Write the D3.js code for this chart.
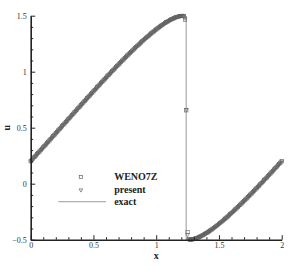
<!DOCTYPE html>
<html>
<head>
<meta charset="utf-8">
<script src="https://cdn.jsdelivr.net/npm/d3@7/dist/d3.min.js"></script>
<style>
  html, body { margin: 0; padding: 0; background: #fff; }
  svg { display: block; font-family: "Liberation Serif", "Times New Roman", serif; }
</style>
</head>
<body>
<div id="chart"></div>
<script>
// Burgers: u0 = 0.5 + sin(pi x), solucion despues de formarse el choque.
// Marcadores: WENO7Z (cuadrados) y present (triangulos); linea: exacta.

const xGrid = [
  0.00, 0.01, 0.02, 0.03, 0.04, 0.05, 0.06, 0.07, 0.08, 0.09,
  0.10, 0.11, 0.12, 0.13, 0.14, 0.15, 0.16, 0.17, 0.18, 0.19,
  0.20, 0.21, 0.22, 0.23, 0.24, 0.25, 0.26, 0.27, 0.28, 0.29,
  0.30, 0.31, 0.32, 0.33, 0.34, 0.35, 0.36, 0.37, 0.38, 0.39,
  0.40, 0.41, 0.42, 0.43, 0.44, 0.45, 0.46, 0.47, 0.48, 0.49,
  0.50, 0.51, 0.52, 0.53, 0.54, 0.55, 0.56, 0.57, 0.58, 0.59,
  0.60, 0.61, 0.62, 0.63, 0.64, 0.65, 0.66, 0.67, 0.68, 0.69,
  0.70, 0.71, 0.72, 0.73, 0.74, 0.75, 0.76, 0.77, 0.78, 0.79,
  0.80, 0.81, 0.82, 0.83, 0.84, 0.85, 0.86, 0.87, 0.88, 0.89,
  0.90, 0.91, 0.92, 0.93, 0.94, 0.95, 0.96, 0.97, 0.98, 0.99,
  1.00, 1.01, 1.02, 1.03, 1.04, 1.05, 1.06, 1.07, 1.08, 1.09,
  1.10, 1.11, 1.12, 1.13, 1.14, 1.15, 1.16, 1.17, 1.18, 1.19,
  1.20, 1.21, 1.22, 1.23, 1.24, 1.25, 1.26, 1.27, 1.28, 1.29,
  1.30, 1.31, 1.32, 1.33, 1.34, 1.35, 1.36, 1.37, 1.38, 1.39,
  1.40, 1.41, 1.42, 1.43, 1.44, 1.45, 1.46, 1.47, 1.48, 1.49,
  1.50, 1.51, 1.52, 1.53, 1.54, 1.55, 1.56, 1.57, 1.58, 1.59,
  1.60, 1.61, 1.62, 1.63, 1.64, 1.65, 1.66, 1.67, 1.68, 1.69,
  1.70, 1.71, 1.72, 1.73, 1.74, 1.75, 1.76, 1.77, 1.78, 1.79,
  1.80, 1.81, 1.82, 1.83, 1.84, 1.85, 1.86, 1.87, 1.88, 1.89,
  1.90, 1.91, 1.92, 1.93, 1.94, 1.95, 1.96, 1.97, 1.98, 1.99,
  2.00
];

const uExact = [
  0.2003, 0.2127, 0.2251, 0.2375, 0.2499, 0.2623, 0.2747, 0.2871, 0.2995, 0.3120,
  0.3245, 0.3370, 0.3495, 0.3620, 0.3745, 0.3870, 0.3995, 0.4121, 0.4247, 0.4372,
  0.4498, 0.4623, 0.4749, 0.4874, 0.5000, 0.5126, 0.5251, 0.5377, 0.5502, 0.5628,
  0.5753, 0.5879, 0.6005, 0.6130, 0.6255, 0.6380, 0.6505, 0.6630, 0.6755, 0.6880,
  0.7005, 0.7129, 0.7253, 0.7377, 0.7501, 0.7625, 0.7749, 0.7873, 0.7997, 0.8119,
  0.8242, 0.8364, 0.8487, 0.8609, 0.8732, 0.8854, 0.8975, 0.9096, 0.9216, 0.9336,
  0.9457, 0.9577, 0.9697, 0.9817, 0.9935, 1.0052, 1.0170, 1.0287, 1.0405, 1.0522,
  1.0640, 1.0754, 1.0868, 1.0982, 1.1096, 1.1210, 1.1324, 1.1438, 1.1547, 1.1657,
  1.1766, 1.1876, 1.1986, 1.2095, 1.2203, 1.2307, 1.2412, 1.2516, 1.2620, 1.2724,
  1.2828, 1.2926, 1.3024, 1.3121, 1.3219, 1.3316, 1.3414, 1.3504, 1.3593, 1.3683,
  1.3772, 1.3861, 1.3947, 1.4026, 1.4106, 1.4185, 1.4265, 1.4341, 1.4408, 1.4475,
  1.4542, 1.4610, 1.4667, 1.4719, 1.4771, 1.4823, 1.4867, 1.4899, 1.4931, 1.4963,
  1.4982, 1.4992, 1.4999, 1.4990, -0.4972, -0.4990, -0.4999, -0.4992, -0.4982, -0.4963,
  -0.4931, -0.4899, -0.4867, -0.4823, -0.4771, -0.4719, -0.4667, -0.4610, -0.4542, -0.4475,
  -0.4408, -0.4341, -0.4265, -0.4185, -0.4106, -0.4026, -0.3947, -0.3861, -0.3772, -0.3683,
  -0.3593, -0.3504, -0.3414, -0.3316, -0.3219, -0.3121, -0.3024, -0.2926, -0.2828, -0.2724,
  -0.2620, -0.2516, -0.2412, -0.2307, -0.2203, -0.2095, -0.1986, -0.1876, -0.1766, -0.1657,
  -0.1547, -0.1438, -0.1324, -0.1210, -0.1096, -0.0982, -0.0868, -0.0754, -0.0640, -0.0522,
  -0.0405, -0.0287, -0.0170, -0.0052, 0.0065, 0.0183, 0.0303, 0.0423, 0.0543, 0.0664,
  0.0784, 0.0904, 0.1025, 0.1146, 0.1268, 0.1391, 0.1513, 0.1636, 0.1758, 0.1881,
  0.2003
];

// choque exacto: posicion y estados a cada lado
const shockX = 1.2387;
const shockU = [1.4972, -0.4972];

const uWeno = [
  0.2003, 0.2127, 0.2251, 0.2375, 0.2499, 0.2623, 0.2747, 0.2871, 0.2995, 0.3120,
  0.3245, 0.3370, 0.3495, 0.3620, 0.3745, 0.3870, 0.3995, 0.4121, 0.4247, 0.4372,
  0.4498, 0.4623, 0.4749, 0.4874, 0.5000, 0.5126, 0.5251, 0.5377, 0.5502, 0.5628,
  0.5753, 0.5879, 0.6005, 0.6130, 0.6255, 0.6380, 0.6505, 0.6630, 0.6755, 0.6880,
  0.7005, 0.7129, 0.7253, 0.7377, 0.7501, 0.7625, 0.7749, 0.7873, 0.7997, 0.8119,
  0.8242, 0.8364, 0.8487, 0.8609, 0.8732, 0.8854, 0.8975, 0.9096, 0.9216, 0.9336,
  0.9457, 0.9577, 0.9697, 0.9817, 0.9935, 1.0052, 1.0170, 1.0287, 1.0405, 1.0522,
  1.0640, 1.0754, 1.0868, 1.0982, 1.1096, 1.1210, 1.1324, 1.1438, 1.1547, 1.1657,
  1.1766, 1.1876, 1.1986, 1.2095, 1.2203, 1.2307, 1.2412, 1.2516, 1.2620, 1.2724,
  1.2828, 1.2926, 1.3024, 1.3121, 1.3219, 1.3316, 1.3414, 1.3504, 1.3593, 1.3683,
  1.3772, 1.3861, 1.3947, 1.4026, 1.4106, 1.4185, 1.4265, 1.4341, 1.4408, 1.4475,
  1.4542, 1.4610, 1.4667, 1.4719, 1.4771, 1.4823, 1.4867, 1.4899, 1.4931, 1.4963,
  1.4982, 1.4992, 1.4950, 1.4650, 0.6550, -0.4320, -0.4940, -0.4992, -0.4982, -0.4963,
  -0.4931, -0.4899, -0.4867, -0.4823, -0.4771, -0.4719, -0.4667, -0.4610, -0.4542, -0.4475,
  -0.4408, -0.4341, -0.4265, -0.4185, -0.4106, -0.4026, -0.3947, -0.3861, -0.3772, -0.3683,
  -0.3593, -0.3504, -0.3414, -0.3316, -0.3219, -0.3121, -0.3024, -0.2926, -0.2828, -0.2724,
  -0.2620, -0.2516, -0.2412, -0.2307, -0.2203, -0.2095, -0.1986, -0.1876, -0.1766, -0.1657,
  -0.1547, -0.1438, -0.1324, -0.1210, -0.1096, -0.0982, -0.0868, -0.0754, -0.0640, -0.0522,
  -0.0405, -0.0287, -0.0170, -0.0052, 0.0065, 0.0183, 0.0303, 0.0423, 0.0543, 0.0664,
  0.0784, 0.0904, 0.1025, 0.1146, 0.1268, 0.1391, 0.1513, 0.1636, 0.1758, 0.1881,
  0.2003
];

const uPresent = [
  0.2003, 0.2127, 0.2251, 0.2375, 0.2499, 0.2623, 0.2747, 0.2871, 0.2995, 0.3120,
  0.3245, 0.3370, 0.3495, 0.3620, 0.3745, 0.3870, 0.3995, 0.4121, 0.4247, 0.4372,
  0.4498, 0.4623, 0.4749, 0.4874, 0.5000, 0.5126, 0.5251, 0.5377, 0.5502, 0.5628,
  0.5753, 0.5879, 0.6005, 0.6130, 0.6255, 0.6380, 0.6505, 0.6630, 0.6755, 0.6880,
  0.7005, 0.7129, 0.7253, 0.7377, 0.7501, 0.7625, 0.7749, 0.7873, 0.7997, 0.8119,
  0.8242, 0.8364, 0.8487, 0.8609, 0.8732, 0.8854, 0.8975, 0.9096, 0.9216, 0.9336,
  0.9457, 0.9577, 0.9697, 0.9817, 0.9935, 1.0052, 1.0170, 1.0287, 1.0405, 1.0522,
  1.0640, 1.0754, 1.0868, 1.0982, 1.1096, 1.1210, 1.1324, 1.1438, 1.1547, 1.1657,
  1.1766, 1.1876, 1.1986, 1.2095, 1.2203, 1.2307, 1.2412, 1.2516, 1.2620, 1.2724,
  1.2828, 1.2926, 1.3024, 1.3121, 1.3219, 1.3316, 1.3414, 1.3504, 1.3593, 1.3683,
  1.3772, 1.3861, 1.3947, 1.4026, 1.4106, 1.4185, 1.4265, 1.4341, 1.4408, 1.4475,
  1.4542, 1.4610, 1.4667, 1.4719, 1.4771, 1.4823, 1.4867, 1.4899, 1.4931, 1.4963,
  1.4982, 1.4992, 1.4975, 1.4780, 0.6620, -0.4550, -0.4970, -0.4992, -0.4982, -0.4963,
  -0.4931, -0.4899, -0.4867, -0.4823, -0.4771, -0.4719, -0.4667, -0.4610, -0.4542, -0.4475,
  -0.4408, -0.4341, -0.4265, -0.4185, -0.4106, -0.4026, -0.3947, -0.3861, -0.3772, -0.3683,
  -0.3593, -0.3504, -0.3414, -0.3316, -0.3219, -0.3121, -0.3024, -0.2926, -0.2828, -0.2724,
  -0.2620, -0.2516, -0.2412, -0.2307, -0.2203, -0.2095, -0.1986, -0.1876, -0.1766, -0.1657,
  -0.1547, -0.1438, -0.1324, -0.1210, -0.1096, -0.0982, -0.0868, -0.0754, -0.0640, -0.0522,
  -0.0405, -0.0287, -0.0170, -0.0052, 0.0065, 0.0183, 0.0303, 0.0423, 0.0543, 0.0664,
  0.0784, 0.0904, 0.1025, 0.1146, 0.1268, 0.1391, 0.1513, 0.1636, 0.1758, 0.1881,
  0.2003
];

const xMajor = [0, 0.5, 1, 1.5, 2];
const xMinor = [0.1, 0.2, 0.3, 0.4, 0.6, 0.7, 0.8, 0.9, 1.1, 1.2, 1.3, 1.4, 1.6, 1.7, 1.8, 1.9];
const yMajor = [-0.5, 0, 0.5, 1, 1.5];
const yMinor = [-0.4, -0.3, -0.2, -0.1, 0.1, 0.2, 0.3, 0.4, 0.6, 0.7, 0.8, 0.9, 1.1, 1.2, 1.3, 1.4];
const legendLabels = ['WENO7Z', 'present', 'exact'];

const width = 300, height = 267;
const margin = { top: 15.7, right: 18.3, bottom: 27.3, left: 30.7 };

const x = d3.scaleLinear().domain([0, 2]).range([margin.left, width - margin.right]);
const y = d3.scaleLinear().domain([-0.5, 1.5]).range([height - margin.bottom, margin.top]);

const markStroke = '#606060';
const lineColor = '#9a9a9a';

const svg = d3.select('#chart').append('svg')
  .attr('width', width).attr('height', height);

// linea exacta con el salto vertical en el choque
const pts = xGrid.map((d, i) => [d, uExact[i]]);
const exactPts = pts.filter(p => p[0] < shockX)
  .concat([[shockX, shockU[0]], [shockX, shockU[1]]])
  .concat(pts.filter(p => p[0] > shockX));

svg.append('path')
  .datum(exactPts)
  .attr('fill', 'none').attr('stroke', lineColor).attr('stroke-width', 1)
  .attr('d', d3.line().x(d => x(d[0])).y(d => y(d[1])));

// WENO7Z: cuadrados
const sq = 3.3;
svg.append('g').selectAll('rect').data(xGrid).join('rect')
  .attr('x', d => x(d) - sq / 2)
  .attr('y', (d, i) => y(uWeno[i]) - sq / 2)
  .attr('width', sq).attr('height', sq)
  .attr('fill', 'none').attr('stroke', markStroke).attr('stroke-width', 0.6);

// present: triangulos hacia abajo
const tri = d3.symbol().type(d3.symbolTriangle).size(6);
svg.append('g').selectAll('path').data(xGrid).join('path')
  .attr('d', tri)
  .attr('transform', (d, i) => `translate(${x(d)},${y(uPresent[i])}) rotate(180)`)
  .attr('fill', 'none').attr('stroke', markStroke).attr('stroke-width', 0.6);

// ejes: menores sin etiqueta, mayores con etiqueta
const axisColor = '#222';
const H = height - margin.bottom;

svg.append('g').attr('transform', `translate(0,${H})`)
  .call(d3.axisBottom(x).tickValues(xMinor).tickSize(-2.5).tickSizeOuter(0).tickFormat(''))
  .call(g => g.select('.domain').remove());
svg.append('g').attr('transform', `translate(0,${H})`)
  .call(d3.axisBottom(x).tickValues(xMajor).tickSize(-4.5).tickSizeOuter(0).tickPadding(3)
    .tickFormat(d3.format('')))
  .call(g => g.select('.domain').attr('stroke-width', 1.6));

svg.append('g').attr('transform', `translate(${margin.left},0)`)
  .call(d3.axisLeft(y).tickValues(yMinor).tickSize(-2.5).tickSizeOuter(0).tickFormat(''))
  .call(g => g.select('.domain').remove());
svg.append('g').attr('transform', `translate(${margin.left},0)`)
  .call(d3.axisLeft(y).tickValues(yMajor).tickSize(-4.5).tickSizeOuter(0).tickPadding(4)
    .tickFormat(d3.format('')))
  .call(g => g.select('.domain').attr('stroke-width', 1.6));

svg.selectAll('.tick line').attr('stroke', axisColor).attr('stroke-width', 1);
svg.selectAll('.domain').attr('stroke', axisColor);
svg.selectAll('.tick text')
  .attr('font-family', '"Liberation Serif", "Times New Roman", serif')
  .attr('font-size', 8).attr('fill', '#333');

// titulos de eje
svg.append('text')
  .attr('x', x(1)).attr('y', 258.5).attr('text-anchor', 'middle')
  .attr('font-size', 10).attr('font-weight', 700).attr('fill', '#222')
  .text('x');
svg.append('text')
  .attr('transform', `translate(10,${y(0.5)}) rotate(-90)`)
  .attr('text-anchor', 'middle')
  .attr('font-size', 10).attr('font-weight', 700).attr('fill', '#222')
  .text('u');

// leyenda
const lg = svg.append('g');
const legX = 0.4, legRows = [0.06, -0.056, -0.161];
lg.append('rect')
  .attr('x', x(legX) - sq / 2).attr('y', y(legRows[0]) - sq / 2)
  .attr('width', sq).attr('height', sq)
  .attr('fill', 'none').attr('stroke', markStroke).attr('stroke-width', 0.7);
lg.append('path')
  .attr('d', tri)
  .attr('transform', `translate(${x(legX)},${y(legRows[1])}) rotate(180)`)
  .attr('fill', 'none').attr('stroke', markStroke).attr('stroke-width', 0.7);
lg.append('line')
  .attr('x1', x(0.22)).attr('x2', x(0.6))
  .attr('y1', y(legRows[2])).attr('y2', y(legRows[2]))
  .attr('stroke', lineColor).attr('stroke-width', 1);
lg.selectAll('text').data(legendLabels).join('text')
  .attr('x', x(0.665))
  .attr('y', (d, i) => y(legRows[i]))
  .attr('dy', '0.35em')
  .attr('font-size', 10).attr('font-weight', 700).attr('fill', '#222')
  .text(d => d);
</script>
</body>
</html>
